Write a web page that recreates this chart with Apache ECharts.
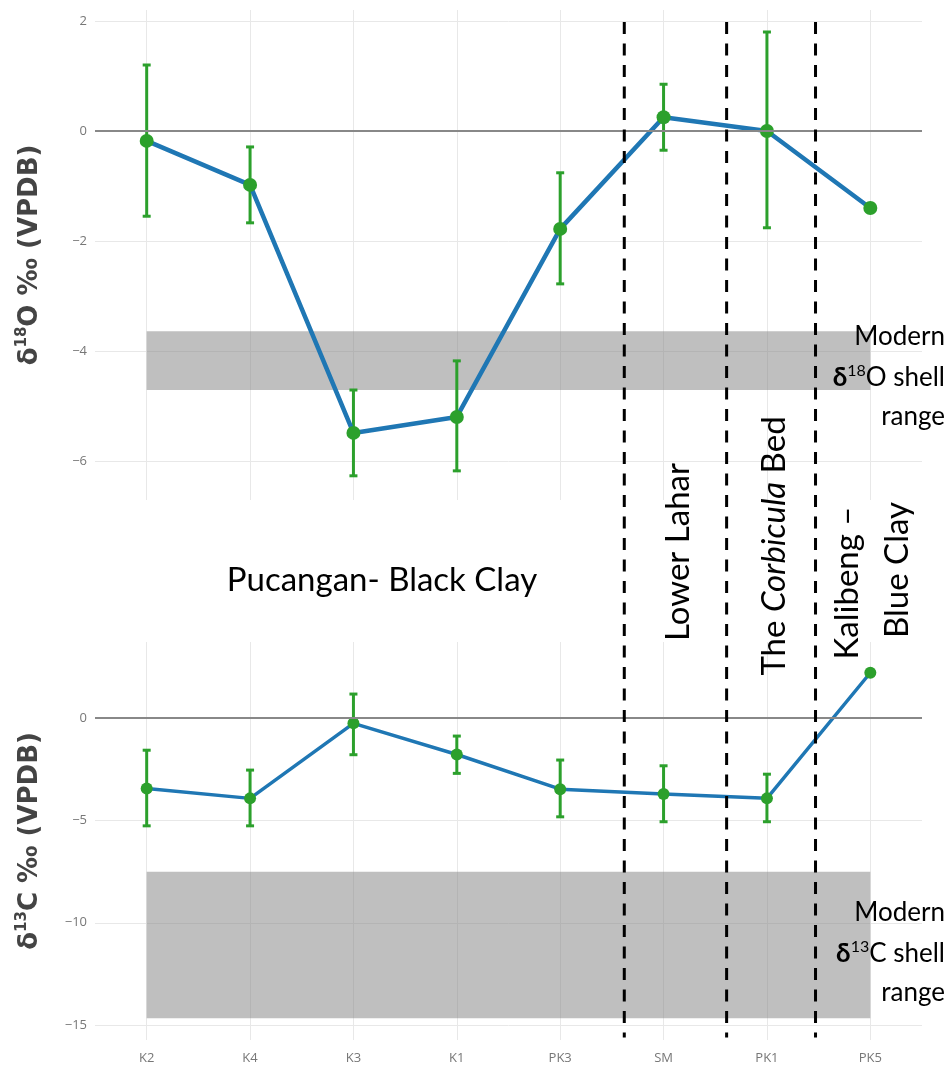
<!DOCTYPE html>
<html>
<head>
<meta charset="utf-8">
<script src="https://cdn.jsdelivr.net/npm/echarts@6/dist/echarts.min.js"></script>
<style>
  html, body { margin: 0; padding: 0; background: #fff; }
  #chart { width: 950px; height: 1077px; }
</style>
</head>
<body>
<div id="chart"></div>
<script>
// Sample sites, ordered through the section
const samples = ['K2', 'K4', 'K3', 'K1', 'PK3', 'SM', 'PK1', 'PK5'];

// δ18O (‰ VPDB): mean and error-bar limits
const o18Mean = [-0.18, -0.98, -5.49, -5.20, -1.78, 0.25, 0.00, -1.40];
const o18Low  = [-1.55, -1.67, -6.27, -6.18, -2.78, -0.35, -1.76, -1.47];
const o18High = [ 1.20, -0.29, -4.71, -4.18, -0.76, 0.85, 1.80, -1.33];

// δ13C (‰ VPDB): mean and error-bar limits (PK5 has a single value)
const c13Mean = [-3.45, -3.93, -0.27, -1.79, -3.48, -3.72, -3.93, 2.20];
const c13Low  = [-5.27, -5.27, -1.80, -2.71, -4.83, -5.07, -5.07, null];
const c13High = [-1.58, -2.55, 1.16, -0.89, -2.06, -2.34, -2.75, null];

// Modern shell ranges [low, high]
const o18ModernRange = [-4.71, -3.64];
const c13ModernRange = [-14.66, -7.51];

// Stratigraphic boundaries, in sample-index units
const unitBoundaries = [4.62, 5.61, 6.47];

const BLUE = '#1f77b4';
const GREEN = '#2ca02c';
const TEXT_FONT = 'Lato';
const TITLE_FONT = 'DejaVu Sans';

const chart = echarts.init(document.getElementById('chart'), null, { renderer: 'canvas' });

function minusSign(v) {
  return String(v).replace('-', '\u2212');
}

function errorBars(low, high) {
  const out = [];
  low.forEach((lo, i) => {
    if (lo !== null && high[i] !== null) out.push([i, lo, high[i]]);
  });
  return out;
}

function renderErrorBar(params, api) {
  const x = api.value(0);
  const lo = api.coord([x, api.value(1)]);
  const hi = api.coord([x, api.value(2)]);
  const cap = 4;
  const style = { stroke: GREEN, lineWidth: 3, lineCap: 'butt' };
  return {
    type: 'group',
    children: [
      { type: 'line', shape: { x1: lo[0], y1: lo[1], x2: hi[0], y2: hi[1] }, style },
      { type: 'line', shape: { x1: lo[0] - cap, y1: lo[1], x2: lo[0] + cap, y2: lo[1] }, style },
      { type: 'line', shape: { x1: hi[0] - cap, y1: hi[1], x2: hi[0] + cap, y2: hi[1] }, style }
    ]
  };
}

function yName(iso, elem) {
  return {
    name: '{d|\u03b4}{s|' + iso + '}{t|' + elem + ' \u2030 (VPDB)}',
    nameLocation: 'middle',
    nameGap: 50,
    nameRotate: 90,
    nameTextStyle: {
      rich: {
        d: { fontFamily: TITLE_FONT, fontWeight: 'bold', fontSize: 26, color: '#444', lineHeight: 30 },
        s: { fontFamily: TITLE_FONT, fontWeight: 'bold', fontSize: 15, color: '#444', verticalAlign: 'top', lineHeight: 30 },
        t: { fontFamily: TITLE_FONT, fontWeight: 'bold', fontSize: 26, color: '#444', lineHeight: 30 }
      }
    }
  };
}

const yCommon = {
  type: 'value',
  axisLine: { show: false },
  axisTick: { show: false },
  axisLabel: {
    color: '#777', fontSize: 13, fontFamily: 'Open Sans', margin: 8,
    showMinLabel: false, showMaxLabel: false,
    formatter: minusSign
  },
  splitLine: { show: true, showMinLine: false, showMaxLine: false, lineStyle: { color: '#e8e8e8', width: 1 } }
};

const xCategory = (grid, labels) => ({
  type: 'category',
  gridIndex: grid,
  data: samples,
  boundaryGap: true,
  axisLine: { show: false },
  axisTick: { show: false },
  splitLine: { show: false },
  axisLabel: { show: labels, color: '#777', fontSize: 13, fontFamily: 'Open Sans', margin: 12 }
});

const xIndexGrid = (grid) => ({
  type: 'value',
  gridIndex: grid,
  min: -0.5,
  max: 7.5,
  splitNumber: 8,
  maxInterval: 1,
  axisLine: { show: false },
  axisTick: { show: false },
  axisLabel: { show: false },
  splitLine: { show: true, showMinLine: false, showMaxLine: false, lineStyle: { color: '#e8e8e8', width: 1 } }
});

const zeroLine = {
  silent: true,
  symbol: 'none',
  label: { show: false },
  lineStyle: { color: '#888', width: 2, type: 'solid' },
  data: [{ yAxis: 0 }]
};

const bandStyle = { color: 'rgba(127,127,127,0.5)' };

chart.setOption({
  animation: false,
  backgroundColor: '#fff',
  grid: [
    { left: 95, right: 28, top: 10, height: 490 },
    { left: 95, right: 28, top: 642, height: 398 }
  ],
  xAxis: [xCategory(0, false), xCategory(1, true), xIndexGrid(0), xIndexGrid(1)],
  yAxis: [
    Object.assign({}, yCommon, { gridIndex: 0, min: -6.71, max: 2.2, splitNumber: 4 }, yName('18', 'O')),
    Object.assign({}, yCommon, { gridIndex: 1, min: -15.72, max: 3.7, splitNumber: 4 }, yName('13', 'C'))
  ],
  series: [
    {
      name: 'δ18O error', type: 'custom', xAxisIndex: 0, yAxisIndex: 0, z: 2,
      renderItem: renderErrorBar, encode: { x: 0, y: [1, 2] },
      data: errorBars(o18Low, o18High),
      markLine: zeroLine
    },
    {
      name: 'δ18O', type: 'line', xAxisIndex: 0, yAxisIndex: 0, z: 3,
      data: o18Mean,
      symbol: 'circle', symbolSize: 14,
      lineStyle: { color: BLUE, width: 4.5 },
      itemStyle: { color: GREEN }
    },
    {
      name: 'Modern δ18O', type: 'line', xAxisIndex: 0, yAxisIndex: 0, z: 4,
      data: samples.map(() => null), symbol: 'none',
      markArea: {
        silent: true, itemStyle: bandStyle,
        data: [[{ xAxis: samples[0], yAxis: o18ModernRange[1] }, { xAxis: samples[samples.length - 1], yAxis: o18ModernRange[0] }]]
      }
    },
    {
      name: 'δ13C error', type: 'custom', xAxisIndex: 1, yAxisIndex: 1, z: 2,
      renderItem: renderErrorBar, encode: { x: 0, y: [1, 2] },
      data: errorBars(c13Low, c13High),
      markLine: zeroLine
    },
    {
      name: 'δ13C', type: 'line', xAxisIndex: 1, yAxisIndex: 1, z: 3,
      data: c13Mean,
      symbol: 'circle', symbolSize: 12,
      lineStyle: { color: BLUE, width: 3.5 },
      itemStyle: { color: GREEN }
    },
    {
      name: 'Modern δ13C', type: 'line', xAxisIndex: 1, yAxisIndex: 1, z: 4,
      data: samples.map(() => null), symbol: 'none',
      markArea: {
        silent: true, itemStyle: bandStyle,
        data: [[{ xAxis: samples[0], yAxis: c13ModernRange[1] }, { xAxis: samples[samples.length - 1], yAxis: c13ModernRange[0] }]]
      }
    }
  ]
});

// Boundary lines between units span both panels
const lineTop = chart.convertToPixel({ yAxisIndex: 0 }, 1.98);
const lineBottom = chart.convertToPixel({ yAxisIndex: 1 }, -15.6);
const graphics = unitBoundaries.map((b) => {
  const x = chart.convertToPixel({ xAxisIndex: 2 }, b);
  return {
    type: 'line', z: 50, silent: true,
    shape: { x1: x, y1: lineTop, x2: x, y2: lineBottom },
    style: { stroke: '#000', lineWidth: 3, lineDash: [12, 9.5] }
  };
});

function label(text, x, y, opts) {
  return Object.assign({
    type: 'text', z: 60, silent: true, x, y,
    style: Object.assign({
      text, fill: '#000', fontFamily: TEXT_FONT, fontSize: 33,
      align: 'center', verticalAlign: 'middle'
    }, opts && opts.style)
  }, opts && opts.el);
}

const upright = Math.PI / 2;

graphics.push(
  label('Pucangan- Black Clay', 382, 580),
  label('Lower Lahar', 678, 552, { el: { rotation: upright } }),
  label('{n|The }{i|Corbicula}{n| Bed}', 774, 546, {
    el: { rotation: upright },
    style: {
      rich: {
        n: { fontFamily: TEXT_FONT, fontSize: 33, fill: '#000' },
        i: { fontFamily: TEXT_FONT, fontSize: 33, fontStyle: 'italic', fill: '#000' }
      }
    }
  }),
  label('Kalibeng \u2013', 847, 583, { el: { rotation: upright } }),
  label('Blue Clay', 897, 570, { el: { rotation: upright } })
);

function modernLabel(iso, elem, yTop) {
  const rich = {
    d: { fontFamily: TEXT_FONT, fontSize: 26, fontWeight: 'bold', fill: '#000', lineHeight: 30 },
    s: { fontFamily: TEXT_FONT, fontSize: 16, fill: '#000', verticalAlign: 'top', lineHeight: 30 },
    t: { fontFamily: TEXT_FONT, fontSize: 26, fill: '#000', lineHeight: 30 }
  };
  const base = { align: 'right', fontSize: 26 };
  return [
    label('Modern', 945, yTop, { style: base }),
    label('{d|\u03b4}{s|' + iso + '}{t|' + elem + ' shell}', 945, yTop + 41, { style: Object.assign({ rich }, base) }),
    label('range', 945, yTop + 80, { style: base })
  ];
}

graphics.push(...modernLabel('18', 'O', 337), ...modernLabel('13', 'C', 913));

chart.setOption({ graphic: graphics });
</script>
</body>
</html>
